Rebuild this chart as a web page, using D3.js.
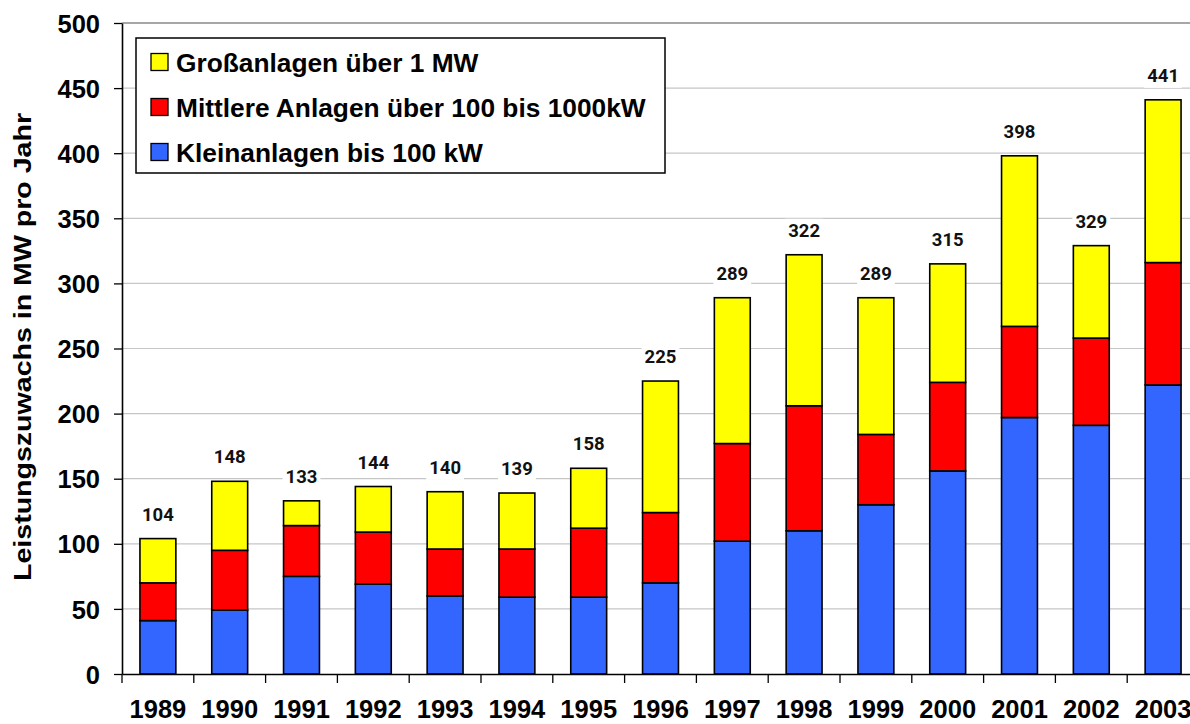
<!DOCTYPE html>
<html>
<head>
<meta charset="utf-8">
<script src="https://cdn.jsdelivr.net/npm/d3@7"></script>
<style>
  html, body { margin: 0; padding: 0; background: #fff; }
  svg { display: block; }
</style>
</head>
<body>
<svg id="chart" width="1190" height="724"></svg>
<script>
const years = ["1989","1990","1991","1992","1993","1994","1995","1996","1997","1998","1999","2000","2001","2002","2003"];
const klein = [41,49,75,69,60,59,59,70,102,110,130,156,197,191,222];
const mittel = [29,46,39,40,36,37,53,54,75,96,54,68,70,67,94];
const gross = [34,53,19,35,44,43,46,101,112,116,105,91,131,71,125];
const totals = [104,148,133,144,140,139,158,225,289,322,289,315,398,329,441];
const yTicks = [0,50,100,150,200,250,300,350,400,450,500];
const seriesNames = ["Großanlagen über 1 MW", "Mittlere Anlagen über 100 bis 1000kW", "Kleinanlagen bis 100 kW"];
const seriesColors = ["#FFFF00", "#FF0000", "#3366FF"];
const yTitle = "Leistungszuwachs in MW pro Jahr";

(function () {
const svg = d3.select("#chart");
const plotLeft = 122, plotBottom = 674, plotTop = 23;
const step = 71.8;
const x = d3.scaleBand().domain(years).range([plotLeft, plotLeft + step * years.length])
  .paddingInner(0.5).paddingOuter(0.25);
const y = d3.scaleLinear().domain([0, 500]).range([plotBottom, plotTop]);

// gridlines
svg.append("g").selectAll("line").data(yTicks.filter(t => t > 0)).join("line")
  .attr("x1", plotLeft).attr("x2", 1200)
  .attr("y1", d => y(d)).attr("y2", d => y(d))
  .attr("stroke", d => d === 500 ? "#8a8a8a" : "#c6c6c6")
  .attr("stroke-width", d => d === 500 ? 1.6 : 1.2);

// stacked data
const table = years.map((yr, i) => ({ year: yr, klein: klein[i], mittel: mittel[i], gross: gross[i] }));
const stack = d3.stack().keys(["klein", "mittel", "gross"])(table);
const colorByKey = { klein: seriesColors[2], mittel: seriesColors[1], gross: seriesColors[0] };

svg.append("g").selectAll("g").data(stack).join("g")
  .attr("fill", d => colorByKey[d.key])
  .selectAll("rect").data(d => d).join("rect")
  .attr("x", d => x(d.data.year))
  .attr("width", x.bandwidth())
  .attr("y", d => y(d[1]))
  .attr("height", d => y(d[0]) - y(d[1]))
  .attr("stroke", "#000").attr("stroke-width", 1.6);

// value labels with white background
const lblG = svg.append("g");
years.forEach((yr, i) => {
  const g = lblG.append("g");
  const t = g.append("text")
    .attr("x", x(yr) + x.bandwidth() / 2)
    .attr("y", y(totals[i]) - 18)
    .attr("text-anchor", "middle")
    .attr("font-family", "Roboto, sans-serif")
    .attr("font-weight", 700)
    .attr("font-size", 18.5)
    .attr("fill", "#111")
    .text(totals[i]);
  const bb = t.node().getBBox();
  g.insert("rect", "text")
    .attr("x", bb.x - 3).attr("y", bb.y - 1)
    .attr("width", bb.width + 6).attr("height", bb.height + 2)
    .attr("fill", "#fff");
});

// y axis
const yAxis = svg.append("g").attr("transform", `translate(${plotLeft},0)`)
  .call(d3.axisLeft(y).tickValues(yTicks).tickSize(8).tickPadding(14).tickSizeOuter(0));
yAxis.select(".domain").attr("stroke", "#000").attr("stroke-width", 1.6);
yAxis.selectAll(".tick line").attr("stroke", "#000").attr("stroke-width", 1.3);
yAxis.selectAll(".tick text")
  .attr("font-family", "'Liberation Sans', Arial, sans-serif")
  .attr("font-weight", 700).attr("font-size", 25.5).attr("fill", "#000")
  .attr("dy", "0.36em");

// x axis
const xAxis = svg.append("g").attr("transform", `translate(0,${plotBottom})`)
  .call(d3.axisBottom(x).tickSize(0).tickPadding(26).tickSizeOuter(0));
xAxis.select(".domain").attr("stroke", "#000").attr("stroke-width", 1.6);
xAxis.selectAll(".tick text")
  .attr("font-family", "'Liberation Sans', Arial, sans-serif")
  .attr("font-weight", 700).attr("font-size", 25.5).attr("fill", "#000");
// tick marks at band boundaries
const boundaries = years.map(yr => x(yr) - x.step() * x.paddingOuter()).concat([x.range()[1]]);
xAxis.append("g").selectAll("line").data(boundaries).join("line")
  .attr("x1", d => d).attr("x2", d => d)
  .attr("y1", 0).attr("y2", 9)
  .attr("stroke", "#000").attr("stroke-width", 1.3);

// y title
svg.append("text")
  .attr("transform", "translate(31,347) rotate(-90)")
  .attr("text-anchor", "middle")
  .attr("font-family", "'Liberation Sans', Arial, sans-serif")
  .attr("font-weight", 700).attr("font-size", 24)
  .attr("textLength", 468).attr("lengthAdjust", "spacingAndGlyphs")
  .attr("fill", "#000")
  .text(yTitle);

// legend
const lg = svg.append("g");
lg.append("rect").attr("x", 136).attr("y", 38).attr("width", 529).attr("height", 135)
  .attr("fill", "#fff").attr("stroke", "#000").attr("stroke-width", 1.5);
seriesNames.forEach((name, i) => {
  const cy = 62 + i * 45;
  lg.append("rect").attr("x", 151).attr("y", cy - 8.5).attr("width", 17).attr("height", 17)
    .attr("fill", seriesColors[i]).attr("stroke", "#000").attr("stroke-width", 1.3);
  lg.append("text").attr("x", 176).attr("y", cy + 9.5)
    .attr("font-family", "'Liberation Sans', Arial, sans-serif")
    .attr("font-weight", 700).attr("font-size", 26.3).attr("fill", "#000")
    .text(name);
});
})();
</script>
</body>
</html>
